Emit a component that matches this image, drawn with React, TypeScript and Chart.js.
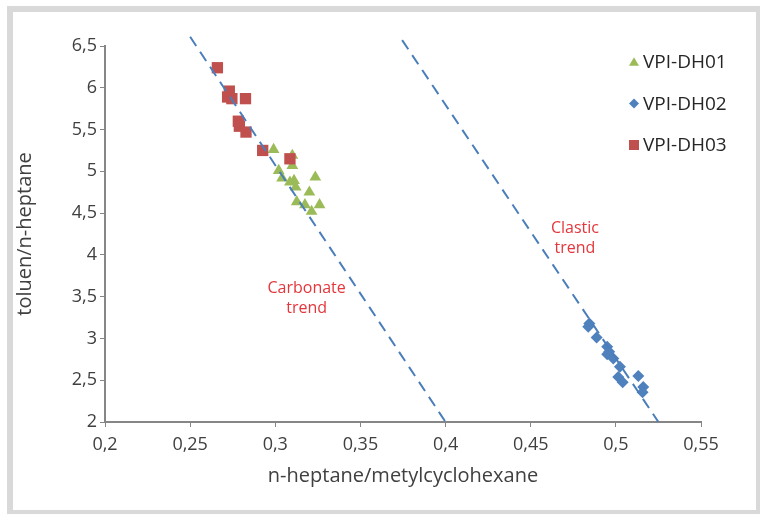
import React, { useEffect, useRef } from 'react';
import { Chart, registerables } from 'chart.js';

Chart.register(...registerables);

const seriesNames = ['VPI-DH01', 'VPI-DH02', 'VPI-DH03'];

const dh01X = [0.299, 0.31, 0.31, 0.302, 0.304, 0.3086, 0.311, 0.312, 0.3235, 0.32, 0.3126, 0.3174, 0.326, 0.3213];
const dh01Y = [5.26, 5.19, 5.07, 5.01, 4.92, 4.87, 4.89, 4.81, 4.93, 4.75, 4.635, 4.6, 4.6, 4.52];

const dh02X = [0.4844, 0.4838, 0.4887, 0.4949, 0.4961, 0.4949, 0.4985, 0.5024, 0.5014, 0.504, 0.5132, 0.5161, 0.5157];
const dh02Y = [3.18, 3.14, 3.01, 2.9, 2.84, 2.81, 2.76, 2.66, 2.54, 2.475, 2.55, 2.42, 2.355];

const dh03X = [0.266, 0.273, 0.272, 0.2745, 0.2825, 0.2783, 0.2789, 0.2828, 0.2926, 0.3086];
const dh03Y = [6.24, 5.96, 5.89, 5.87, 5.87, 5.6, 5.54, 5.47, 5.25, 5.15];

const carbonateTrendX = [0.25, 0.4];
const carbonateTrendY = [6.61, 2];
const clasticTrendX = [0.3745, 0.525];
const clasticTrendY = [6.57, 2];

const annotationLines = [['Carbonate', 'trend'], ['Clastic', 'trend']];
const annotationX = [0.3184, 0.476];
const annotationY = [3.48, 4.2];

const xMin = 0.2, xMax = 0.55, xStep = 0.05;
const yMin = 2, yMax = 6.5, yStep = 0.5;

const xTitle = 'n-heptane/metylcyclohexane';
const yTitle = 'toluen/n-heptane';

const GREEN = '#9BBB59';
const BLUE = '#4F81BD';
const RED = '#C0504D';
const TREND = '#4A7EBB';
const FONT = '"Open Sans", "DejaVu Sans", sans-serif';

const toPts = (xs: number[], ys: number[]) => xs.map((x, i) => ({ x, y: ys[i] }));
const fmt = (v: number) => String(Number(Number(v).toFixed(2))).replace('.', ',');

const legendStyles = [
  { color: GREEN, shape: 'triangle' },
  { color: BLUE, shape: 'diamond' },
  { color: RED, shape: 'square' },
];

function drawMarker(ctx: CanvasRenderingContext2D, shape: string, x: number, y: number, s: number) {
  ctx.beginPath();
  if (shape === 'triangle') {
    ctx.moveTo(x, y - s * 0.95);
    ctx.lineTo(x + s, y + s * 0.75);
    ctx.lineTo(x - s, y + s * 0.75);
  } else if (shape === 'diamond') {
    ctx.moveTo(x, y - s);
    ctx.lineTo(x + s, y);
    ctx.lineTo(x, y + s);
    ctx.lineTo(x - s, y);
  } else {
    ctx.rect(x - s, y - s, 2 * s, 2 * s);
  }
  ctx.closePath();
  ctx.fill();
}

const overlayPlugin = {
  id: 'overlay',
  afterDatasetsDraw(chart: any) {
    const { ctx, chartArea, scales } = chart;
    ctx.save();
    ctx.font = `16px ${FONT}`;
    ctx.fillStyle = '#E4363C';
    ctx.textAlign = 'center';
    ctx.textBaseline = 'middle';
    annotationLines.forEach((lines, i) => {
      const cx = scales.x.getPixelForValue(annotationX[i]);
      const cy = scales.y.getPixelForValue(annotationY[i]);
      lines.forEach((t, j) => ctx.fillText(t, cx, cy + (j - (lines.length - 1) / 2) * 20));
    });
    ctx.font = `19px ${FONT}`;
    ctx.textAlign = 'left';
    seriesNames.forEach((name, i) => {
      const mx = chartArea.right - 67;
      const my = chartArea.top + 16 + i * 41.5;
      ctx.fillStyle = legendStyles[i].color;
      drawMarker(ctx, legendStyles[i].shape, mx, my, 5);
      ctx.fillStyle = '#262626';
      ctx.fillText(name, mx + 9, my + 1);
    });
    ctx.restore();
  },
};

export default function App() {
  const ref = useRef<HTMLCanvasElement>(null);
  useEffect(() => {
    const chart = new Chart(ref.current as HTMLCanvasElement, {
      type: 'scatter',
      data: {
        datasets: [
          {
            label: 'Carbonate trend',
            data: toPts(carbonateTrendX, carbonateTrendY),
            showLine: true,
            borderColor: TREND,
            borderWidth: 2,
            borderDash: [11, 7],
            pointRadius: 0,
            clip: false as any,
            order: 0,
          },
          {
            label: 'Clastic trend',
            data: toPts(clasticTrendX, clasticTrendY),
            showLine: true,
            borderColor: TREND,
            borderWidth: 2,
            borderDash: [11, 7],
            pointRadius: 0,
            clip: false as any,
            order: 0,
          },
          {
            label: seriesNames[2],
            data: toPts(dh03X, dh03Y),
            pointStyle: 'rect',
            pointRadius: 8,
            backgroundColor: RED,
            borderColor: RED,
            borderWidth: 0,
            order: 1,
          },
          {
            label: seriesNames[0],
            data: toPts(dh01X, dh01Y),
            pointStyle: 'triangle',
            pointRadius: 6.8,
            backgroundColor: GREEN,
            borderColor: GREEN,
            borderWidth: 0,
            order: 2,
          },
          {
            label: seriesNames[1],
            data: toPts(dh02X, dh02Y),
            pointStyle: 'rectRot',
            pointRadius: 6,
            backgroundColor: BLUE,
            borderColor: BLUE,
            borderWidth: 0,
            order: 3,
          },
        ],
      },
      options: {
        responsive: false,
        animation: false,
        layout: { padding: { top: 34, right: 55, left: 0, bottom: 0 } },
        plugins: { legend: { display: false }, tooltip: { enabled: false } },
        scales: {
          x: {
            type: 'linear',
            position: 'bottom',
            min: xMin,
            max: xMax,
            ticks: {
              stepSize: xStep,
              callback: (v: any) => fmt(v),
              font: { family: FONT, size: 18 },
              color: '#404040',
              padding: 7,
            },
            grid: { display: true, drawOnChartArea: false, drawTicks: true, tickLength: 5, color: '#868686' },
            border: { display: true, color: '#868686', width: 2 },
            title: { display: true, text: xTitle, font: { family: FONT, size: 20 }, color: '#404040', padding: { top: 0, bottom: 22 } },
            afterFit: (s: any) => { s.height = 88; },
          },
          y: {
            type: 'linear',
            min: yMin,
            max: yMax,
            ticks: {
              stepSize: yStep,
              callback: (v: any) => fmt(v),
              font: { family: FONT, size: 18 },
              color: '#404040',
              padding: 3,
            },
            grid: { display: true, drawOnChartArea: false, drawTicks: true, tickLength: 5, color: '#868686' },
            border: { display: true, color: '#868686', width: 2 },
            title: { display: true, text: yTitle, font: { family: FONT, size: 20 }, color: '#404040', padding: { top: 0, bottom: 0 } },
            afterFit: (s: any) => { s.width = 92; },
          },
        },
      } as any,
      plugins: [overlayPlugin],
    });
    return () => chart.destroy();
  }, []);
  return (
    <div
      style={{
        position: 'fixed',
        left: 7,
        top: 6,
        width: 743,
        height: 498,
        border: '6px solid #d9d9d9',
        background: '#fff',
      }}
    >
      <canvas ref={ref} width={743} height={498} style={{ display: 'block', width: 743, height: 498 }} />
    </div>
  );
}
